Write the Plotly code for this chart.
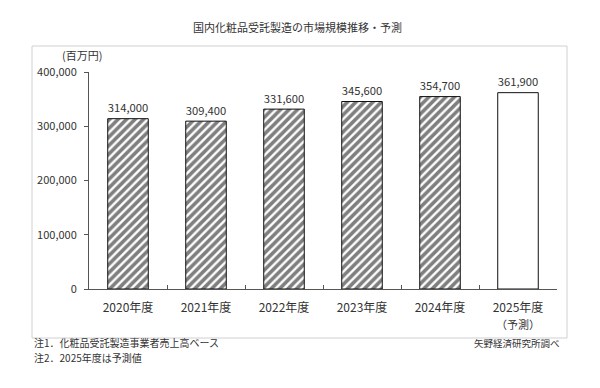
import plotly.graph_objects as go

categories = ["2020年度", "2021年度", "2022年度", "2023年度", "2024年度", "2025年度"]
values = [314000, 309400, 331600, 345600, 354700, 361900]
is_forecast = [False, False, False, False, False, True]
y_ticks = [0, 100000, 200000, 300000, 400000]
y_tick_labels = ["0", "100,000", "200,000", "300,000", "400,000"]

FONT = "Noto Sans CJK JP"
W, H = 600, 388
L, R, T, B = 89, 557, 72, 289

def px_x(p):
    return (p - L) / (R - L)

def px_y(p):
    return (B - p) / (B - T)

shapes_ = ["" if f else "/" for f in is_forecast]

fig = go.Figure()
fig.add_trace(go.Bar(
    x=categories, y=values, width=0.52,
    marker=dict(color="white", line=dict(color="#111", width=1),
                pattern=dict(shape=shapes_, fgcolor="#000", bgcolor="white",
                             size=6, solidity=0.6)),
    text=[f"{v:,}" for v in values], textposition="outside",
    textfont=dict(family=FONT, size=13, color="#333"),
    cliponaxis=False,
))

fig.update_layout(
    width=W, height=H,
    margin=dict(l=L, r=W - R, t=T, b=H - B),
    paper_bgcolor="white", plot_bgcolor="rgba(0,0,0,0)",
    showlegend=False,
    font=dict(family=FONT, size=10, color="#333"),
    xaxis=dict(showline=True, linecolor="#555", linewidth=1,
               ticks="inside", tickson="boundaries", ticklen=4, tickcolor="#555",
               ticklabelstandoff=8,
               tickfont=dict(family=FONT, size=12, color="#333")),
    yaxis=dict(range=[0, 400000], tickvals=y_ticks, ticktext=y_tick_labels,
               showline=True, linecolor="#555", linewidth=1, showgrid=False,
               ticks="outside", ticklen=4, tickcolor="#555", zeroline=False,
               ticklabelstandoff=5,
               tickfont=dict(family=FONT, size=11, color="#333")),
    shapes=[dict(type="rect", xref="paper", yref="paper",
                 x0=px_x(32), x1=px_x(567), y0=px_y(338), y1=px_y(46),
                 line=dict(color="#d0d0d0", width=1), fillcolor="rgba(0,0,0,0)", layer="below")],
    annotations=[
        dict(text="国内化粧品受託製造の市場規模推移・予測", xref="paper", yref="paper",
             x=px_x(297), y=px_y(27), xanchor="center", yanchor="middle", showarrow=False,
             font=dict(family=FONT, size=11, color="#333")),
        dict(text="(百万円)", xref="paper", yref="paper",
             x=px_x(82), y=px_y(55), xanchor="center", yanchor="middle", showarrow=False,
             font=dict(family=FONT, size=11, color="#333")),
        dict(text="（予測）", xref="x", yref="paper",
             x=categories[-1], y=px_y(324), xanchor="center", yanchor="middle", showarrow=False,
             font=dict(family=FONT, size=11, color="#333")),
        dict(text="注1．化粧品受託製造事業者売上高ベース", xref="paper", yref="paper",
             x=px_x(32), y=px_y(342), xanchor="left", yanchor="middle", showarrow=False,
             font=dict(family=FONT, size=10, color="#333")),
        dict(text="注2．2025年度は予測値", xref="paper", yref="paper",
             x=px_x(32), y=px_y(357), xanchor="left", yanchor="middle", showarrow=False,
             font=dict(family=FONT, size=10, color="#333")),
        dict(text="矢野経済研究所調べ", xref="paper", yref="paper",
             x=px_x(562), y=px_y(343), xanchor="right", yanchor="middle", showarrow=False,
             font=dict(family=FONT, size=9.5, color="#333")),
    ],
)

fig.write_html("out.html", config={"displayModeBar": False},
               post_script="document.body.style.margin='0';document.body.style.overflow='hidden';")
